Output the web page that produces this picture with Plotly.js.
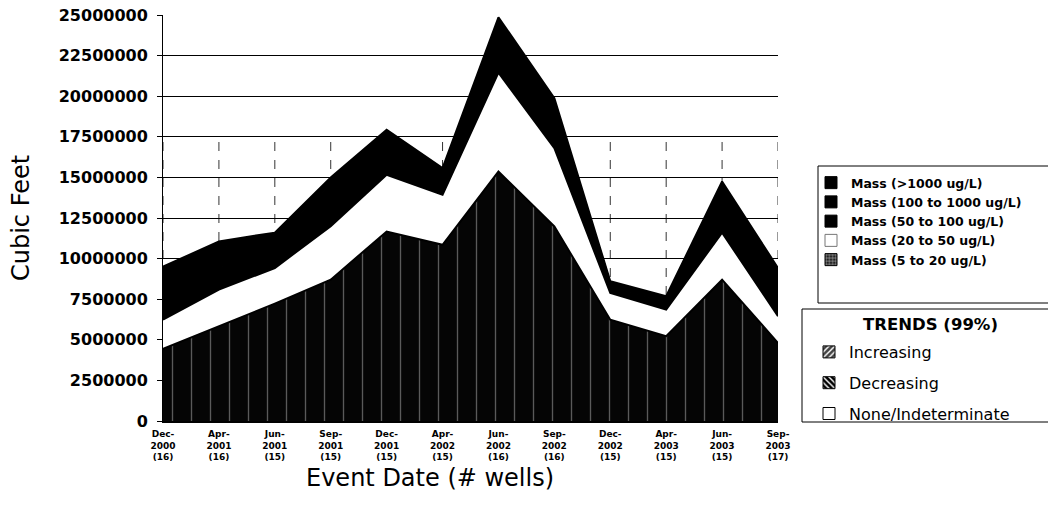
<!DOCTYPE html>
<html>
<head>
<meta charset="utf-8">
<script src="https://cdn.plot.ly/plotly-3.0.1.min.js"></script>
<style>html,body{margin:0;padding:0;background:#fff;}#chart{width:1048px;height:515px;}</style>
</head>
<body>
<div id="chart"></div>
<script>
// Event dates (categories) and their x tick labels
const categories = ['Dec-2000','Apr-2001','Jun-2001','Sep-2001','Dec-2001','Apr-2002','Jun-2002','Sep-2002','Dec-2002','Apr-2003','Jun-2003','Sep-2003'];
const tickLabels = ['Dec-<br>2000<br>(16)','Apr-<br>2001<br>(16)','Jun-<br>2001<br>(15)','Sep-<br>2001<br>(15)','Dec-<br>2001<br>(15)','Apr-<br>2002<br>(15)','Jun-<br>2002<br>(16)','Sep-<br>2002<br>(16)','Dec-<br>2002<br>(15)','Apr-<br>2003<br>(15)','Jun-<br>2003<br>(15)','Sep-<br>2003<br>(17)'];

// Series values (cubic feet), stacked bottom to top
const mass5to20     = [4440000, 5830000, 7230000, 8700000, 11670000, 10850000, 15360000, 11980000, 6240000, 5220000, 8700000, 4810000];
const mass20to50    = [1800000, 2260000, 2190000, 3300000, 3490000, 3080000, 6090000, 4820000, 1640000, 1640000, 2900000, 1640000];
const mass50to100   = [1500000, 1400000, 1000000, 1400000, 1300000, 800000, 1600000, 1400000, 350000, 400000, 1500000, 1400000];
const mass100to1000 = [1300000, 1200000, 900000, 1200000, 1100000, 600000, 1400000, 1300000, 270000, 300000, 1250000, 1200000];
const massOver1000  = [460000, 370000, 280000, 400000, 370000, 240000, 410000, 380000, 100000, 120000, 400000, 370000];

const seriesNames = ['Mass (5 to 20 ug/L)','Mass (20 to 50 ug/L)','Mass (50 to 100 ug/L)','Mass (100 to 1000 ug/L)','Mass (>1000 ug/L)'];
const trendTitle = 'TRENDS (99%)';
const trendNames = ['Increasing','Decreasing','None/Indeterminate'];

const areaStyle = [
  {fillcolor:'#050505', fillpattern:{shape:'|', bgcolor:'#050505', fgcolor:'#5a5a5a', size:19, solidity:0.07}},
  {fillcolor:'#ffffff'},
  {fillcolor:'#000000'},
  {fillcolor:'#000000'},
  {fillcolor:'#000000'}
];
const seriesData = [mass5to20, mass20to50, mass50to100, mass100to1000, massOver1000];

const traces = [];
seriesData.forEach((vals, i) => {
  const t = {
    type:'scatter', mode:'lines', x: categories, y: vals, name: seriesNames[i],
    stackgroup:'one', line:{width:2, color:'#000'}, fillcolor: areaStyle[i].fillcolor,
    showlegend:false, hoverinfo:'x+y+name'
  };
  if (areaStyle[i].fillpattern) t.fillpattern = areaStyle[i].fillpattern;
  traces.push(t);
});

// Legend entries only (no visible marks): top-down order as in the chart legend
const legendMarkers = [
  {color:'#000', line:{color:'#000', width:1}},
  {color:'#000', line:{color:'#000', width:1}},
  {color:'#000', line:{color:'#000', width:1}},
  {color:'#fff', line:{color:'#777', width:1}},
  {color:'#333', line:{color:'#000', width:1}, pattern:{shape:'+', fgcolor:'#bbb', bgcolor:'#222', size:4, solidity:0.3}}
];
[4,3,2,1,0].forEach((si, k) => {
  traces.push({type:'bar', x:[categories[0]], y:[null], name: seriesNames[si], marker: legendMarkers[k], legend:'legend', showlegend:true, hoverinfo:'skip'});
});
const trendMarkers = [
  {color:'#555', line:{color:'#000', width:1}, pattern:{shape:'/', fgcolor:'#fff', bgcolor:'#444', size:5, solidity:0.35}},
  {color:'#000', line:{color:'#000', width:1}, pattern:{shape:'\\', fgcolor:'#fff', bgcolor:'#000', size:5, solidity:0.35}},
  {color:'#fff', line:{color:'#000', width:1}}
];
trendNames.forEach((n, k) => {
  traces.push({type:'bar', x:[categories[0]], y:[null], name:n, marker: trendMarkers[k], legend:'legend2', legendgroup:'t'+k, showlegend:true, hoverinfo:'skip'});
});

// Vertical category gridlines (drawn below the areas)
const shapes = categories.map(c => ({
  type:'line', xref:'x', yref:'y', x0:c, x1:c, y0:0, y1:17500000,
  line:{color:'#333', width:1, dash:'dash'}, layer:'below'
}));
// Legend frames (extend past the right edge like the original)
shapes.push({type:'rect', xref:'paper', yref:'paper', x0:(818-163)/615, x1:(1054-163)/615, y0:(421-303)/406, y1:(421-166)/406,
  line:{color:'#000', width:1}, fillcolor:'rgba(0,0,0,0)', layer:'below'});
shapes.push({type:'rect', xref:'paper', yref:'paper', x0:(802-163)/615, x1:(1054-163)/615, y0:(421-422)/406, y1:(421-309)/406,
  line:{color:'#000', width:1}, fillcolor:'rgba(0,0,0,0)', layer:'below'});

const layout = {
  width:1048, height:515,
  margin:{l:163, r:270, t:15, b:94},
  paper_bgcolor:'#fff', plot_bgcolor:'#fff',
  showlegend:true,
  shapes: shapes,
  xaxis:{
    type:'category', range:[0, 11], tickmode:'array', tickvals: categories, ticktext: tickLabels,
    tickfont:{family:'DejaVu Sans', size:9, weight:'bold', color:'#000'},
    ticklabelstandoff:3,
    showgrid:false,
    showline:true, linecolor:'#000', linewidth:2, ticks:'', fixedrange:true
  },
  yaxis:{
    range:[0, 25000000], dtick:2500000, tick0:0, tickformat:'d',
    tickfont:{family:'DejaVu Sans', size:16, weight:'bold', color:'#000'},
    ticklabelstandoff:6,
    showgrid:true, gridcolor:'#000', gridwidth:1,
    showline:true, linecolor:'#000', linewidth:1, ticks:'outside', ticklen:5, tickcolor:'#000',
    zeroline:false,
    title:{text:'Cubic Feet', font:{family:'DejaVu Sans', size:24, color:'#000'}, standoff:22},
    fixedrange:true
  },
  legend:{
    x:(811-163)/615, y:(421-168)/406, xanchor:'left', yanchor:'top',
    bgcolor:'rgba(0,0,0,0)', borderwidth:0,
    font:{family:'DejaVu Sans', size:12.5, weight:'bold', color:'#000'},
    traceorder:'normal', itemclick:false, itemdoubleclick:false
  },
  legend2:{
    x:(809-163)/615, y:(421-335)/406, xanchor:'left', yanchor:'top',
    bgcolor:'rgba(0,0,0,0)', borderwidth:0,
    font:{family:'DejaVu Sans', size:16, color:'#000'},
    traceorder:'grouped', tracegroupgap:7, itemclick:false, itemdoubleclick:false
  },
  annotations:[
    {text:'Event Date (# wells)', xref:'paper', yref:'paper', x:(430-163)/615, y:-0.1, xanchor:'center', yanchor:'top', showarrow:false,
     font:{family:'DejaVu Sans', size:24, color:'#000'}},
    {text:trendTitle, xref:'paper', yref:'paper', x:(930-163)/615, y:(421-324)/406, xanchor:'center', yanchor:'middle', showarrow:false,
     font:{family:'DejaVu Sans', size:16.5, weight:'bold', color:'#000'}}
  ]
};

Plotly.newPlot('chart', traces, layout, {displayModeBar:false, staticPlot:true});
</script>
</body>
</html>
